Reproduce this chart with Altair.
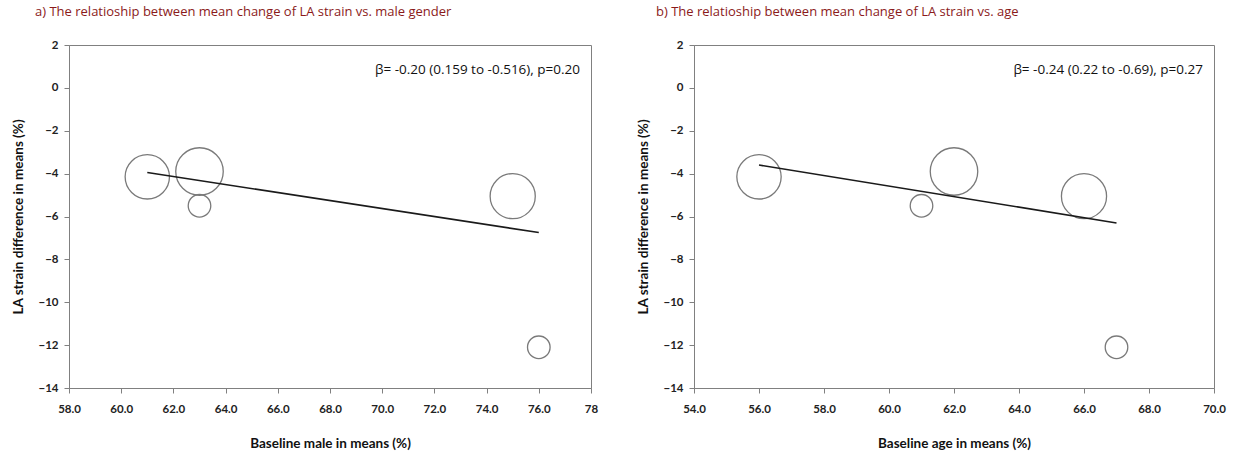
import altair as alt
import pandas as pd
import math

# ---- data ----
male_x = [61.0, 63.0, 63.0, 75.0, 76.0]
age_x = [56.0, 62.0, 61.0, 66.0, 67.0]
strain_diff = [-4.15, -3.9, -5.5, -5.05, -12.1]
weights = [27, 31, 7, 28, 7]

male_line_x = [61.0, 76.0]
male_line_y = [-3.95, -6.75]
age_line_x = [56.0, 67.0]
age_line_y = [-3.6, -6.3]

y_ticks = [2, 0, -2, -4, -6, -8, -10, -12, -14]
male_ticks = [58, 60, 62, 64, 66, 68, 70, 72, 74, 76, 78]
age_ticks = [54, 56, 58, 60, 62, 64, 66, 68, 70]

titles = ["a) The relatioship between mean change of LA strain vs. male gender",
          "b) The relatioship between mean change of LA strain vs. age"]
annotations = ["β= -0.20 (0.159 to -0.516), p=0.20",
               "β= -0.24 (0.22 to -0.69), p=0.27"]
x_titles = ["Baseline male in  means (%)", "Baseline age in  means (%)"]
y_title = "LA strain difference in means (%)"

W_L, W_R, H = 522, 520, 343
AX = "#808080"
LABEL_FONT = "Lato"


def panel(xs, lx, ly, xdom, xticks, xtitle, title, note, width, fmt_expr, tdx):
    pts = pd.DataFrame({"x": xs, "y": strain_diff, "w": weights})
    line = pd.DataFrame({"x": lx, "y": ly})
    xscale = alt.Scale(domain=xdom, nice=False, zero=False)
    yscale = alt.Scale(domain=[-14, 2], nice=False, zero=False)
    xaxis = alt.Axis(values=xticks, title=xtitle, labelExpr=fmt_expr, grid=False, labelFlush=False)
    yaxis = alt.Axis(values=y_ticks, title=y_title, labelExpr="format(datum.value, 'd')",
                     grid=False, labelFlush=False)

    circles = alt.Chart(pts).mark_point(
        shape="circle", filled=False, stroke="#7a7a7a", strokeWidth=1.3, opacity=1
    ).encode(
        x=alt.X("x:Q", scale=xscale, axis=xaxis),
        y=alt.Y("y:Q", scale=yscale, axis=yaxis),
        size=alt.Size("w:Q", scale=alt.Scale(domain=[0, 31], range=[0, math.pi * 26.8 ** 2]), legend=None),
    )
    reg = alt.Chart(line).mark_line(color="#1a1a1a", strokeWidth=1.6).encode(
        x=alt.X("x:Q", scale=xscale), y=alt.Y("y:Q", scale=yscale)
    )
    txt = alt.Chart(pd.DataFrame({"t": [note]})).mark_text(
        align="right", baseline="middle", font="Open Sans", fontSize=13.5, color="#111"
    ).encode(text="t:N", x=alt.value(width - 11), y=alt.value(25))
    return alt.layer(circles, reg, txt).properties(
        width=width, height=H,
        title=alt.TitleParams(title, anchor="start", frame="group", dx=tdx, fontSize=13,
                              font="Open Sans", fontWeight="normal", color="#8b1a1a", offset=20),
    )


left = panel(male_x, male_line_x, male_line_y, [58, 78], male_ticks, x_titles[0], titles[0],
             annotations[0], W_L, "datum.value == 78 ? '78' : format(datum.value, '.1f')", -34)
right = panel(age_x, age_line_x, age_line_y, [54, 70], age_ticks, x_titles[1], titles[1],
              annotations[1], W_R, "format(datum.value, '.1f')", -38)

chart = alt.hconcat(left, right, spacing=37).properties(
    padding={"left": 11, "top": 5, "right": 5, "bottom": 5}
).configure_view(stroke=AX, strokeWidth=1).configure_axis(
    domainColor=AX, tickColor=AX, tickSize=5, labelFont=LABEL_FONT, labelFontWeight="bold",
    labelFontSize=11.5, labelColor="#222", titleFont=LABEL_FONT, titleFontWeight="bold",
    titleFontSize=13.5, titleColor="#111", labelPadding=5,
).configure_axisX(titlePadding=22, labelPadding=10).configure_axisY(titlePadding=12, labelPadding=6)

chart.save("out.html", embed_options={"renderer": "svg", "actions": False})
